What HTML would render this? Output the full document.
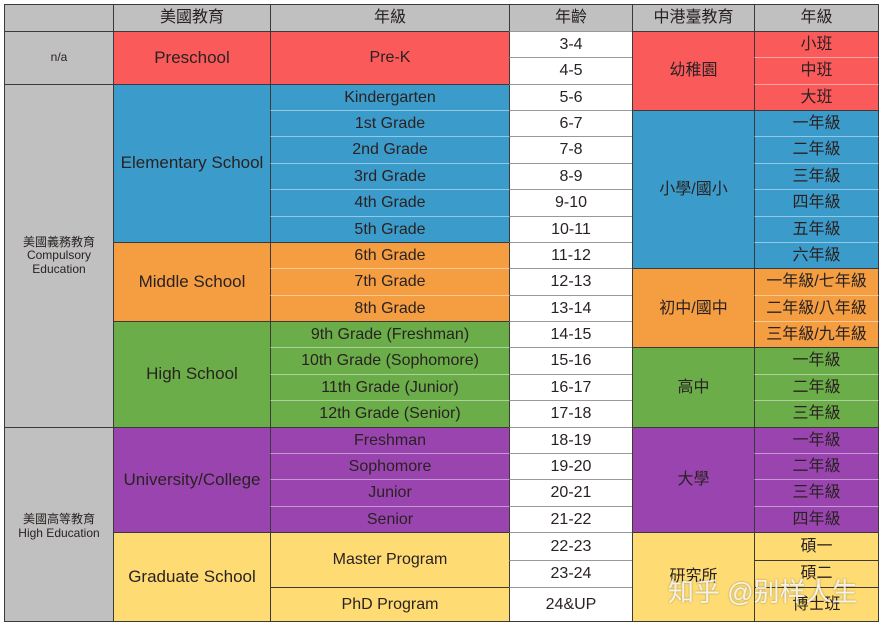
<!DOCTYPE html>
<html><head><meta charset="utf-8"><style>
body{margin:0;width:883px;height:629px;background:#fff;overflow:hidden;position:relative;font-family:"Liberation Sans","Noto Sans CJK TC",sans-serif;color:#2a2222}
div{position:absolute;box-sizing:border-box;border:1px solid #3a3a3a;display:flex;align-items:center;justify-content:center;text-align:center;font-size:16px;line-height:1.1}
.a{left:4px;width:110px;background:#c0c0c0;font-size:12px}
.b{left:113px;width:158px;font-size:17px}
.c{left:270px;width:240px}
.d{left:509px;width:124px;background:#fff;border-color:#999 #3a3a3a}
.e{left:632px;width:123px}
.f{left:754px;width:125px}
.h{background:#c0c0c0;top:4px;height:28px;font-size:16px}
.s{border-top-color:rgba(255,255,255,.45)}
.R{background:#fb5a5b}.B{background:#3b9bca}.O{background:#f49d41}.G{background:#6aad49}.P{background:#9a44b0}.Y{background:#fedc73}
</style></head><body>
<div class="a h"></div><div class="b h">美國教育</div><div class="c h">年級</div><div class="d h" style="background:#c0c0c0;border-color:#3a3a3a">年齡</div><div class="e h">中港臺教育</div><div class="f h">年級</div>

<div class="a" style="top:31px;height:54px">n/a</div>
<div class="a" style="top:84px;height:344px">美國義務教育<br>Compulsory<br>Education</div>
<div class="a" style="top:427px;height:195px;padding-top:4px">美國高等教育<br>High Education</div>

<div class="b R" style="top:31px;height:54px">Preschool</div>
<div class="b B" style="top:84px;height:159px">Elementary School</div>
<div class="b O" style="top:242px;height:80px">Middle School</div>
<div class="b G" style="top:321px;height:107px">High School</div>
<div class="b P" style="top:427px;height:106px">University/College</div>
<div class="b Y" style="top:532px;height:90px">Graduate School</div>

<div class="c R" style="top:31px;height:54px">Pre-K</div>
<div class="c B" style="top:84px;height:27px">Kindergarten</div>
<div class="c B s" style="top:110px;height:27px">1st Grade</div>
<div class="c B s" style="top:136px;height:28px">2nd Grade</div>
<div class="c B s" style="top:163px;height:27px">3rd Grade</div>
<div class="c B s" style="top:189px;height:28px">4th Grade</div>
<div class="c B s" style="top:216px;height:27px">5th Grade</div>
<div class="c O" style="top:242px;height:27px">6th Grade</div>
<div class="c O s" style="top:268px;height:28px">7th Grade</div>
<div class="c O s" style="top:295px;height:27px">8th Grade</div>
<div class="c G" style="top:321px;height:27px">9th Grade (Freshman)</div>
<div class="c G s" style="top:347px;height:28px">10th Grade (Sophomore)</div>
<div class="c G s" style="top:374px;height:27px">11th Grade (Junior)</div>
<div class="c G s" style="top:400px;height:28px">12th Grade (Senior)</div>
<div class="c P" style="top:427px;height:27px">Freshman</div>
<div class="c P s" style="top:453px;height:27px">Sophomore</div>
<div class="c P s" style="top:479px;height:28px">Junior</div>
<div class="c P s" style="top:506px;height:27px">Senior</div>
<div class="c Y" style="top:532px;height:56px">Master Program</div>
<div class="c Y" style="top:587px;height:35px">PhD Program</div>

<div class="d" style="top:31px;height:27px">3-4</div>
<div class="d" style="top:57px;height:28px">4-5</div>
<div class="d" style="top:84px;height:27px">5-6</div>
<div class="d" style="top:110px;height:27px">6-7</div>
<div class="d" style="top:136px;height:28px">7-8</div>
<div class="d" style="top:163px;height:27px">8-9</div>
<div class="d" style="top:189px;height:28px">9-10</div>
<div class="d" style="top:216px;height:27px">10-11</div>
<div class="d" style="top:242px;height:27px">11-12</div>
<div class="d" style="top:268px;height:28px">12-13</div>
<div class="d" style="top:295px;height:27px">13-14</div>
<div class="d" style="top:321px;height:27px">14-15</div>
<div class="d" style="top:347px;height:28px">15-16</div>
<div class="d" style="top:374px;height:27px">16-17</div>
<div class="d" style="top:400px;height:28px">17-18</div>
<div class="d" style="top:427px;height:27px">18-19</div>
<div class="d" style="top:453px;height:27px">19-20</div>
<div class="d" style="top:479px;height:28px">20-21</div>
<div class="d" style="top:506px;height:27px">21-22</div>
<div class="d" style="top:532px;height:29px">22-23</div>
<div class="d" style="top:560px;height:28px">23-24</div>
<div class="d" style="top:587px;height:35px;border-bottom-color:#3a3a3a">24&amp;UP</div>

<div class="e R" style="top:31px;height:80px">幼稚園</div>
<div class="e B" style="top:110px;height:159px">小學/國小</div>
<div class="e O" style="top:268px;height:81px">初中/國中</div>
<div class="e G" style="top:347px;height:81px">高中</div>
<div class="e P" style="top:427px;height:106px">大學</div>
<div class="e Y" style="top:532px;height:90px">研究所</div>

<div class="f R" style="top:31px;height:27px">小班</div>
<div class="f R s" style="top:57px;height:28px">中班</div>
<div class="f R s" style="top:84px;height:27px">大班</div>
<div class="f B" style="top:110px;height:27px">一年級</div>
<div class="f B s" style="top:136px;height:28px">二年級</div>
<div class="f B s" style="top:163px;height:27px">三年級</div>
<div class="f B s" style="top:189px;height:28px">四年級</div>
<div class="f B s" style="top:216px;height:27px">五年級</div>
<div class="f B s" style="top:242px;height:27px">六年級</div>
<div class="f O" style="top:268px;height:28px">一年級/七年級</div>
<div class="f O s" style="top:295px;height:27px">二年級/八年級</div>
<div class="f O s" style="top:321px;height:27px">三年級/九年級</div>
<div class="f G" style="top:347px;height:28px">一年級</div>
<div class="f G s" style="top:374px;height:27px">二年級</div>
<div class="f G s" style="top:400px;height:28px">三年級</div>
<div class="f P" style="top:427px;height:27px">一年級</div>
<div class="f P s" style="top:453px;height:27px">二年級</div>
<div class="f P s" style="top:479px;height:28px">三年級</div>
<div class="f P s" style="top:506px;height:27px">四年級</div>
<div class="f Y" style="top:532px;height:29px">碩一</div>
<div class="f Y" style="top:560px;height:28px">碩二</div>
<div class="f Y" style="top:587px;height:35px">博士班</div>

<div style="border:none;left:668px;top:572px;width:200px;height:40px;font-size:26px;color:rgba(255,255,255,.85);text-shadow:0 0 2px rgba(0,0,0,.35);justify-content:flex-start;white-space:nowrap">知乎 @别样人生</div>
</body></html>
